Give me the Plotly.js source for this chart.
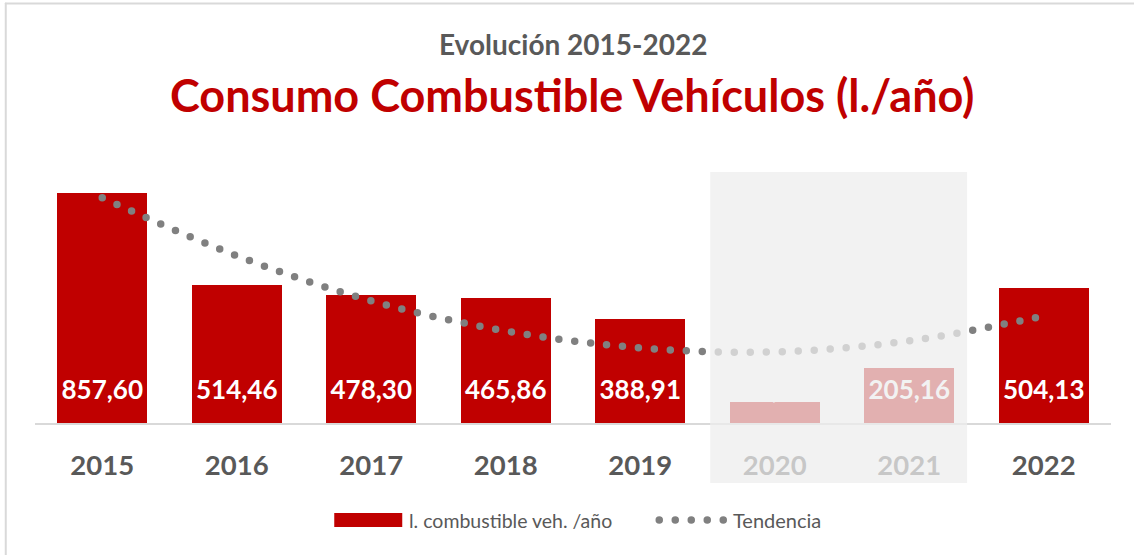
<!DOCTYPE html>
<html>
<head>
<meta charset="utf-8">
<script src="https://cdn.plot.ly/plotly-3.0.1.min.js"></script>
<style>
  html, body { margin: 0; padding: 0; background: #fff; }
  #chart { width: 1134px; height: 555px; }
  /* round caps turn the zero-length dashes into dots */
  .scatterlayer .js-line, .shapelayer path { stroke-linecap: round; }
</style>
</head>
<body>
<div id="chart"></div>
<script>
// Consumo combustible vehículos (l./año)
const years = ['2015', '2016', '2017', '2018', '2019', '2020', '2021', '2022'];
const consumo = [857.60, 514.46, 478.30, 465.86, 388.91, 77.20, 205.16, 504.13];
// trend line
const tendencia = [839, 623, 455, 343, 280, 265, 306, 399];

const RED = '#c00000';
const GREY = '#595959';
const FONT = 'Lato, "Open Sans", sans-serif';

const fmt = v => v.toFixed(2).replace('.', ',');

// px -> paper helpers (plot area 34.75..1110.75 x, 168..423 y)
const px = x => (x - 34.75) / 1076;
const py = y => (423 - y) / 255;

const barTrace = {
  x: years,
  y: consumo,
  type: 'bar',
  width: 0.67,
  marker: { color: RED },
  hoverinfo: 'skip',
  showlegend: false
};

const trendTrace = {
  x: years,
  y: tendencia,
  type: 'scatter',
  mode: 'lines',
  line: { color: '#808080', width: 7.5, dash: '0px,16px', shape: 'spline', smoothing: 1 },
  hoverinfo: 'skip',
  showlegend: false
};

const labelTrace = {
  x: years,
  y: consumo.map(() => 112),
  type: 'scatter',
  mode: 'text',
  text: consumo.map(fmt),
  textfont: { family: FONT, size: 26, color: '#ffffff', weight: 'bold' },
  hoverinfo: 'skip',
  showlegend: false
};

const layout = {
  width: 1134,
  height: 555,
  margin: { l: 34.75, r: 23.25, t: 168, b: 132 },
  paper_bgcolor: '#ffffff',
  plot_bgcolor: '#ffffff',
  showlegend: false,
  bargap: 0,
  xaxis: {
    type: 'category',
    range: [-0.5, 7.5],
    showline: true,
    linecolor: '#d9d9d9',
    linewidth: 2,
    showgrid: false,
    zeroline: false,
    ticks: '',
    ticklabelstandoff: 17,
    tickfont: { family: FONT, size: 27.5, color: GREY, weight: 'bold' },
    fixedrange: true
  },
  yaxis: {
    range: [0, 950],
    visible: false,
    showgrid: false,
    zeroline: false,
    fixedrange: true
  },
  annotations: [
    {
      text: 'Evolución 2015-2022',
      xref: 'paper', yref: 'paper', x: px(573), y: py(44),
      xanchor: 'center', yanchor: 'middle', showarrow: false,
      font: { family: FONT, size: 28, color: GREY, weight: 'bold' }
    },
    {
      text: 'Consumo Combustible Vehículos (l./año)',
      xref: 'paper', yref: 'paper', x: px(572), y: py(95),
      xanchor: 'center', yanchor: 'middle', showarrow: false,
      font: { family: FONT, size: 45, color: RED, weight: 'bold' }
    },
    {
      text: 'l. combustible veh. /año',
      xref: 'paper', yref: 'paper', x: px(407), y: py(520),
      xanchor: 'left', yanchor: 'middle', showarrow: false,
      font: { family: FONT, size: 19.5, color: GREY }
    },
    {
      text: 'Tendencia',
      xref: 'paper', yref: 'paper', x: px(731), y: py(520),
      xanchor: 'left', yanchor: 'middle', showarrow: false,
      font: { family: FONT, size: 20, color: GREY }
    }
  ],
  shapes: [
    // faded 2020-2021 block
    {
      type: 'rect', layer: 'above',
      xref: 'x', yref: 'paper',
      x0: 4.52, x1: 6.43, y0: py(483), y1: py(172),
      fillcolor: 'rgba(238,238,238,0.74)', line: { width: 0 }
    },
    // legend swatches
    {
      type: 'rect', xref: 'paper', yref: 'paper',
      x0: px(334), x1: px(402), y0: py(527), y1: py(513),
      fillcolor: RED, line: { width: 0 }
    },
    {
      type: 'line', xref: 'paper', yref: 'paper',
      x0: px(659), x1: px(724), y0: py(520), y1: py(520),
      line: { color: '#808080', width: 7.5, dash: '0px,16px' }
    },
    // chart frame (top and left edges)
    {
      type: 'line', xref: 'paper', yref: 'paper',
      x0: px(5.5), x1: px(1140), y0: py(3.5), y1: py(3.5),
      line: { color: '#d9d9d9', width: 2 }
    },
    {
      type: 'line', xref: 'paper', yref: 'paper',
      x0: px(5.5), x1: px(5.5), y0: py(3.5), y1: py(560),
      line: { color: '#d9d9d9', width: 2 }
    }
  ]
};

Plotly.newPlot('chart', [barTrace, trendTrace, labelTrace], layout, {
  displayModeBar: false,
  staticPlot: true
});
</script>
</body>
</html>
